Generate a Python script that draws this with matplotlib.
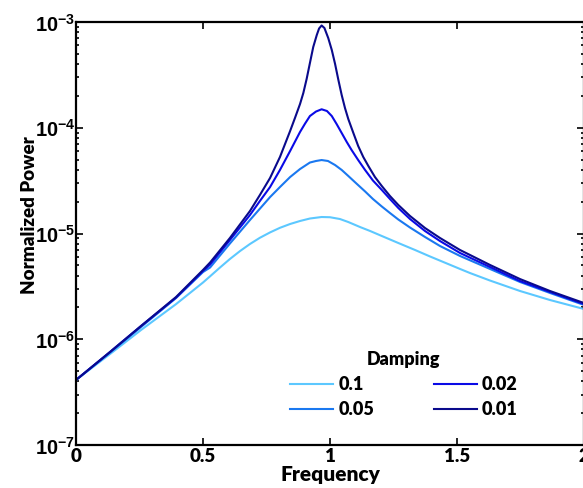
import math
import matplotlib
matplotlib.use("Agg")
import matplotlib.pyplot as plt
from matplotlib.ticker import LogLocator, FixedLocator, NullFormatter, FuncFormatter

plt.rcParams['font.family'] = ['Lato', 'DejaVu Sans']
plt.rcParams['mathtext.fontset'] = 'custom'
plt.rcParams['mathtext.rm'] = 'Liberation Sans:bold'
plt.rcParams['mathtext.bf'] = 'Liberation Sans:bold'
plt.rcParams['mathtext.default'] = 'bf'

damping_labels = ["0.1", "0.05", "0.02", "0.01"]
colors = ["#5CC8FF", "#1A78F0", "#0A0AE6", "#0A0A8C"]

freq_01 = [0, 0.134, 0.256, 0.394, 0.5, 0.528, 0.567, 0.606, 0.646, 0.685, 0.724, 0.764,
           0.803, 0.843, 0.882, 0.921, 0.967, 1.0, 1.039, 1.072, 1.118, 1.158, 1.204,
           1.269, 1.335, 1.394, 1.512, 1.551, 1.630, 1.748, 1.866, 2.0]
pow_01 = [4.12e-7, 7.25e-7, 1.223e-6, 2.15e-6, 3.44e-6, 3.94e-6, 4.77e-6, 5.74e-6, 6.83e-6,
          7.96e-6, 9.11e-6, 1.024e-5, 1.132e-5, 1.230e-5, 1.313e-5, 1.386e-5, 1.432e-5,
          1.425e-5, 1.371e-5, 1.284e-5, 1.152e-5, 1.056e-5, 9.47e-6, 8.13e-6, 6.98e-6,
          6.06e-6, 4.62e-6, 4.23e-6, 3.59e-6, 2.86e-6, 2.35e-6, 1.932e-6]

freq_005 = [0, 0.134, 0.256, 0.394, 0.5, 0.528, 0.606, 0.685, 0.764, 0.803, 0.843, 0.882,
            0.921, 0.945, 0.967, 0.992, 1.020, 1.046, 1.072, 1.102, 1.138, 1.169, 1.204,
            1.236, 1.269, 1.315, 1.374, 1.433, 1.512, 1.630, 1.748, 1.866, 2.0]
pow_005 = [4.12e-7, 7.49e-7, 1.306e-6, 2.455e-6, 4.32e-6, 4.77e-6, 8.04e-6, 1.342e-5, 2.21e-5,
           2.75e-5, 3.42e-5, 4.07e-5, 4.69e-5, 4.85e-5, 4.95e-5, 4.85e-5, 4.44e-5, 3.99e-5,
           3.50e-5, 3.00e-5, 2.50e-5, 2.12e-5, 1.800e-5, 1.563e-5, 1.356e-5, 1.139e-5,
           9.27e-6, 7.62e-6, 6.13e-6, 4.62e-6, 3.48e-6, 2.74e-6, 2.11e-6]

freq_002 = [0, 0.134, 0.256, 0.394, 0.5, 0.528, 0.606, 0.685, 0.724, 0.764, 0.803, 0.843,
            0.882, 0.902, 0.921, 0.945, 0.967, 0.988, 1.007, 1.026, 1.046, 1.066, 1.085,
            1.111, 1.138, 1.169, 1.204, 1.236, 1.269, 1.315, 1.374, 1.433, 1.512, 1.630,
            1.748, 1.866, 2.0]
pow_002 = [4.12e-7, 7.58e-7, 1.334e-6, 2.48e-6, 4.42e-6, 5.09e-6, 8.68e-6, 1.496e-5, 2.029e-5,
           2.75e-5, 3.99e-5, 6.03e-5, 9.12e-5, 1.097e-4, 1.291e-4, 1.424e-4, 1.495e-4,
           1.440e-4, 1.291e-4, 1.085e-4, 8.92e-5, 7.33e-5, 6.16e-5, 4.95e-5, 3.99e-5,
           3.17e-5, 2.58e-5, 2.12e-5, 1.742e-5, 1.371e-5, 1.056e-5, 8.49e-6, 6.54e-6,
           4.82e-6, 3.55e-6, 2.80e-6, 2.15e-6]

freq_001 = [0, 0.134, 0.256, 0.394, 0.5, 0.528, 0.606, 0.685, 0.724, 0.764, 0.803, 0.843,
            0.862, 0.882, 0.895, 0.908, 0.921, 0.934, 0.948, 0.957, 0.967, 0.978, 0.993,
            1.007, 1.020, 1.033, 1.046, 1.059, 1.072, 1.092, 1.111, 1.131, 1.151, 1.177,
            1.204, 1.236, 1.269, 1.315, 1.374, 1.433, 1.512, 1.630, 1.748, 1.866, 2.0]
pow_001 = [4.12e-7, 7.58e-7, 1.334e-6, 2.51e-6, 4.52e-6, 5.32e-6, 9.07e-6, 1.633e-5, 2.312e-5,
           3.35e-5, 5.29e-5, 9.32e-5, 1.236e-4, 1.677e-4, 2.131e-4, 2.891e-4, 4.10e-4,
           5.80e-4, 7.54e-4, 8.68e-4, 9.27e-4, 8.78e-4, 7.06e-4, 5.44e-4, 4.01e-4, 2.83e-4,
           2.04e-4, 1.537e-4, 1.210e-4, 8.92e-5, 6.72e-5, 5.29e-5, 4.35e-5, 3.42e-5, 2.81e-5,
           2.263e-5, 1.860e-5, 1.464e-5, 1.127e-5, 9.07e-6, 6.98e-6, 5.04e-6, 3.71e-6,
           2.86e-6, 2.20e-6]

series = [(freq_01, pow_01), (freq_005, pow_005), (freq_002, pow_002), (freq_001, pow_001)]

x_ticks = [0, 0.5, 1, 1.5, 2]
x_tick_labels = ["0", "0.5", "1", "1.5", "2"]

fig = plt.figure(figsize=(5.83, 4.88), dpi=100)
ax = fig.add_axes([76/583, 1 - 445/488, 508/583, 423/488])

for (f, p), c, lab in zip(series, colors, damping_labels):
    ax.plot(f, p, color=c, lw=1.5, label=lab, solid_joinstyle='round')

ax.set_yscale('log')
ax.set_ylim(1e-7, 1e-3)
ax.set_xlim(0, 2)
ax.set_xticks(x_ticks)
ax.set_xticklabels(x_tick_labels, fontsize=13.5, fontweight='heavy')
ax.xaxis.set_minor_locator(FixedLocator([]))
ax.yaxis.set_major_locator(LogLocator(base=10, numticks=10))
ax.yaxis.set_minor_locator(LogLocator(base=10, subs=range(2, 10), numticks=20))
ax.yaxis.set_minor_formatter(NullFormatter())

def yfmt(v, pos):
    e = int(round(math.log10(v)))
    return r'$\mathbf{10^{%d}}$' % e
ax.yaxis.set_major_formatter(FuncFormatter(yfmt))
for t in ax.get_yticklabels():
    t.set_fontsize(14.5)

ax.tick_params(which='both', direction='in', top=True, right=True, width=1.2)
ax.tick_params(which='major', length=5)
ax.tick_params(axis='x', which='major', pad=2)
ax.tick_params(axis='y', which='major', pad=0.5)
ax.tick_params(which='minor', length=2.5)
for s in ax.spines.values():
    s.set_linewidth(1.6)

ax.set_xlabel("Frequency", fontsize=15, fontweight='heavy', labelpad=0)
ax.set_ylabel("Normalized Power", fontsize=13.5, fontweight='heavy')
ax.yaxis.set_label_coords(-0.074, 0.544)

leg = ax.legend(ncol=2, title="Damping", frameon=False, loc='upper left',
                bbox_to_anchor=(0.421, 0.222), borderaxespad=0, borderpad=0,
                fontsize=13, handlelength=2.4, columnspacing=3.3,
                handletextpad=0.28, labelspacing=0.45)
leg.get_title().set_fontweight('heavy')
leg.get_title().set_fontsize(13)
for t in leg.get_texts():
    t.set_fontweight('heavy')

fig.savefig("out.png", dpi=100)
